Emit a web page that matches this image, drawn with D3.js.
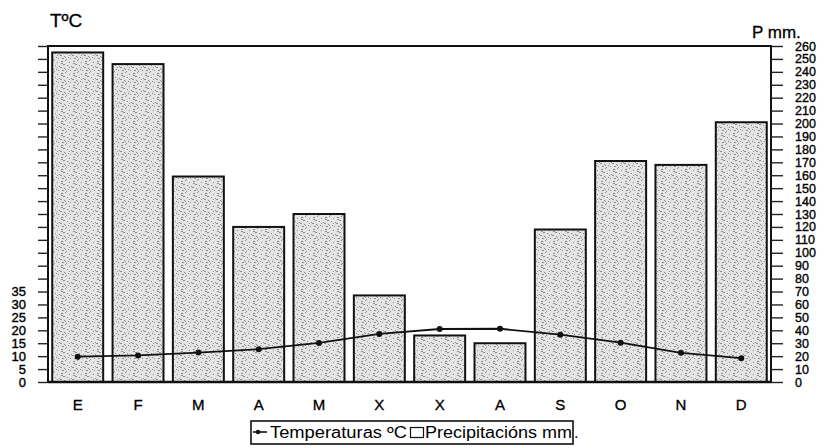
<!DOCTYPE html>
<html>
<head>
<meta charset="utf-8">
<script src="https://cdn.jsdelivr.net/npm/d3@7/dist/d3.min.js"></script>
<style>
  body { margin: 0; background: #fff; }
  svg { display: block; font-family: "Liberation Sans", Arial, sans-serif; }
  .tick text { fill: #000; }
</style>
</head>
<body>
<svg id="chart" width="824" height="448"></svg>
<script>
const months = ['E', 'F', 'M', 'A', 'M', 'X', 'X', 'A', 'S', 'O', 'N', 'D'];
const precipitation = [255, 246, 159, 120, 130, 67, 36, 30, 118, 171, 168, 201];
const temperature = [9.8, 10.3, 11.4, 12.7, 15.1, 18.6, 20.5, 20.6, 18.3, 15.2, 11.3, 9.2];
const tempTicks = d3.range(0, 131, 5);
const tempLabelMax = 35;
const precTicks = d3.range(0, 261, 10);

const LEFT = 48;
const RIGHT = 771;
const TOP = 46;
const BOTTOM = 382;

const svg = d3.select('#chart');

// speckled grey fill, like the scanned original
const specks = [
  [1, 1], [5, 0], [9, 2], [3, 4], [7, 5], [11, 6], [0, 7], [4, 8],
  [8, 9], [2, 10], [6, 11], [10, 10], [1, 3], [9, 7], [5, 9]
];
const pattern = svg.append('defs')
  .append('pattern')
  .attr('id', 'stipple')
  .attr('width', 12)
  .attr('height', 12)
  .attr('patternUnits', 'userSpaceOnUse');
pattern.append('rect')
  .attr('width', 12)
  .attr('height', 12)
  .attr('fill', '#e4e4e4');
pattern.selectAll('rect.speck')
  .data(specks)
  .enter()
    .append('rect')
    .classed('speck', true)
    .attr('x', (d) => d[0])
    .attr('y', (d) => d[1])
    .attr('width', (d, i) => (i % 3 === 0 ? 2 : 1))
    .attr('height', 1)
    .attr('fill', '#8c8c8c');

const x = d3.scaleBand()
  .domain(d3.range(months.length))
  .range([LEFT, RIGHT])
  .paddingInner(0.155)
  .paddingOuter(0.07);

const yP = d3.scaleLinear().domain([0, 260]).range([BOTTOM, TOP]);
const yT = d3.scaleLinear().domain([0, 130]).range([BOTTOM, TOP]);

// bars
svg.append('g')
  .attr('id', 'bars')
  .selectAll('rect')
  .data(precipitation)
  .enter()
    .append('rect')
    .attr('x', (d, i) => x(i))
    .attr('y', (d) => yP(d))
    .attr('width', x.bandwidth())
    .attr('height', (d) => yP(0) - yP(d))
    .attr('fill', 'url(#stipple)')
    .attr('stroke', '#111')
    .attr('stroke-width', 2);

// frame
svg.append('rect')
  .attr('x', LEFT)
  .attr('y', TOP)
  .attr('width', RIGHT - LEFT)
  .attr('height', BOTTOM - TOP)
  .attr('fill', 'none')
  .attr('stroke', '#111')
  .attr('stroke-width', 2);
svg.append('line')
  .attr('x1', LEFT)
  .attr('x2', RIGHT)
  .attr('y1', BOTTOM)
  .attr('y2', BOTTOM)
  .attr('stroke', '#111')
  .attr('stroke-width', 2.5);

// temperature line
const line = d3.line()
  .x((d, i) => x(i) + x.bandwidth() / 2)
  .y((d) => yT(d));
svg.append('path')
  .datum(temperature)
  .attr('d', line)
  .attr('fill', 'none')
  .attr('stroke', '#111')
  .attr('stroke-width', 1.8);
svg.append('g')
  .selectAll('circle')
  .data(temperature)
  .enter()
    .append('circle')
    .attr('cx', (d, i) => x(i) + x.bandwidth() / 2)
    .attr('cy', (d) => yT(d))
    .attr('r', 3)
    .attr('fill', '#111');

// left axis (temperature)
const leftAxis = svg.append('g')
  .attr('transform', `translate(${LEFT},0)`)
  .call(d3.axisLeft(yT)
    .tickValues(tempTicks)
    .tickSize(10)
    .tickPadding(12)
    .tickFormat((d) => (d <= tempLabelMax ? d : '')));
leftAxis.select('.domain').remove();
leftAxis.selectAll('.tick line').attr('stroke', '#222').attr('stroke-width', 1.4);
leftAxis.selectAll('.tick text')
  .attr('font-size', 13)
  .attr('stroke', '#000')
  .attr('stroke-width', 0.4);

// right axis (precipitation)
const rightAxis = svg.append('g')
  .attr('transform', `translate(${RIGHT},0)`)
  .call(d3.axisRight(yP)
    .tickValues(precTicks)
    .tickSize(12)
    .tickPadding(12));
rightAxis.select('.domain').remove();
rightAxis.selectAll('.tick line').attr('stroke', '#222').attr('stroke-width', 1.4);
rightAxis.selectAll('.tick text')
  .attr('font-size', 12.5)
  .attr('stroke', '#000')
  .attr('stroke-width', 0.35);

// month labels
svg.append('g')
  .selectAll('text')
  .data(months)
  .enter()
    .append('text')
    .attr('x', (d, i) => x(i) + x.bandwidth() / 2)
    .attr('y', 410)
    .attr('text-anchor', 'middle')
    .attr('font-size', 15)
    .attr('stroke', '#000')
    .attr('stroke-width', 0.35)
    .text((d) => d);

// unit titles
svg.append('text')
  .attr('x', 50)
  .attr('y', 27)
  .attr('font-size', 19)
  .attr('stroke', '#000')
  .attr('stroke-width', 0.3)
  .text('TºC');
svg.append('text')
  .attr('x', 752)
  .attr('y', 38)
  .attr('font-size', 17)
  .attr('stroke', '#000')
  .attr('stroke-width', 0.3)
  .text('P mm.');

// legend
const legend = svg.append('g').attr('id', 'legend');
legend.append('rect')
  .attr('x', 251)
  .attr('y', 421)
  .attr('width', 322)
  .attr('height', 23)
  .attr('fill', '#fff')
  .attr('stroke', '#111')
  .attr('stroke-width', 1.6);
legend.append('line')
  .attr('x1', 253)
  .attr('x2', 267)
  .attr('y1', 432)
  .attr('y2', 432)
  .attr('stroke', '#111')
  .attr('stroke-width', 1.6);
legend.append('circle')
  .attr('cx', 258)
  .attr('cy', 432)
  .attr('r', 2.2)
  .attr('fill', '#111');
legend.append('text')
  .attr('x', 270)
  .attr('y', 438)
  .attr('font-size', 16)
  .attr('textLength', 137)
  .attr('lengthAdjust', 'spacingAndGlyphs')
  .text('Temperaturas ºC');
legend.append('rect')
  .attr('x', 410.5)
  .attr('y', 427.5)
  .attr('width', 13)
  .attr('height', 10)
  .attr('fill', '#fff')
  .attr('stroke', '#111')
  .attr('stroke-width', 1.2);
legend.append('text')
  .attr('x', 425)
  .attr('y', 438)
  .attr('font-size', 16)
  .attr('textLength', 147)
  .attr('lengthAdjust', 'spacingAndGlyphs')
  .text('Precipitacións mm');
legend.append('text')
  .attr('x', 574)
  .attr('y', 438)
  .attr('font-size', 16)
  .text('.');
</script>
</body>
</html>
